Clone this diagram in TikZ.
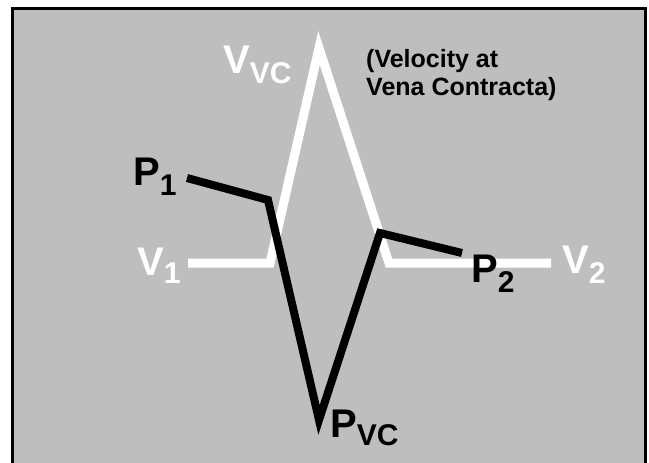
\documentclass[tikz,border=0pt]{standalone}
\usepackage{fontspec}
\setmainfont{Liberation Sans}
\definecolor{panel}{RGB}{190,190,190}
\newcommand{\symsub}[3][10pt]{#2\raisebox{-#1}{\fontsize{30}{30}\selectfont #3}}

\begin{document}
\begin{tikzpicture}[
  x=1pt, y=-1pt,
  vline/.style={white, line width=9pt, miter limit=10},
  pline/.style={black, line width=8pt, miter limit=10},
  lbl/.style={anchor=base west, inner sep=0pt,
              font=\fontsize{40}{40}\selectfont\bfseries},
  note/.style={anchor=base west, inner sep=0pt, align=left,
               font=\fontsize{25}{28}\selectfont\bfseries},
]
\useasboundingbox (0,0) rectangle (649,463);
\fill[panel] (12,8) rectangle (645,463);
\draw[line width=3pt] (12,463) -- (12,8) -- (645,8) -- (645,463);

% velocity profile
\coordinate (v1)   at (188,263);
\coordinate (vin)  at (270,263);
\coordinate (vvc)  at (319,48);
\coordinate (vout) at (389,263);
\coordinate (v2)   at (551,263);
\draw[vline] (v1) -- (vin) -- (vvc) -- (vout) -- (v2);

% pressure profile
\coordinate (p1)   at (187,178);
\coordinate (pin)  at (268,200);
\coordinate (pvc)  at (319,420);
\coordinate (pout) at (380,233);
\coordinate (p2)   at (462,253);
\draw[pline] (p1) -- (pin) -- (pvc) -- (pout) -- (p2);

\node[lbl, white] (vvclbl) at (223,73) {\symsub{V}{VC}};
\node[lbl] (p1lbl) at (133,185) {\symsub{P}{1}};
\node[lbl, white] (v1lbl) at (137,275) {\symsub[8pt]{V}{1}};
\node[lbl] (p2lbl) at (471,282) {\symsub{P}{2}};
\node[lbl, white] (v2lbl) at (562,273) {\symsub{V}{2}};
\node[lbl] (pvclbl) at (330,437) {\symsub[8pt]{P}{VC}};
\node[note] (vcnote) at (366,95) {(Velocity at\\Vena Contracta)};
\end{tikzpicture}
\end{document}
